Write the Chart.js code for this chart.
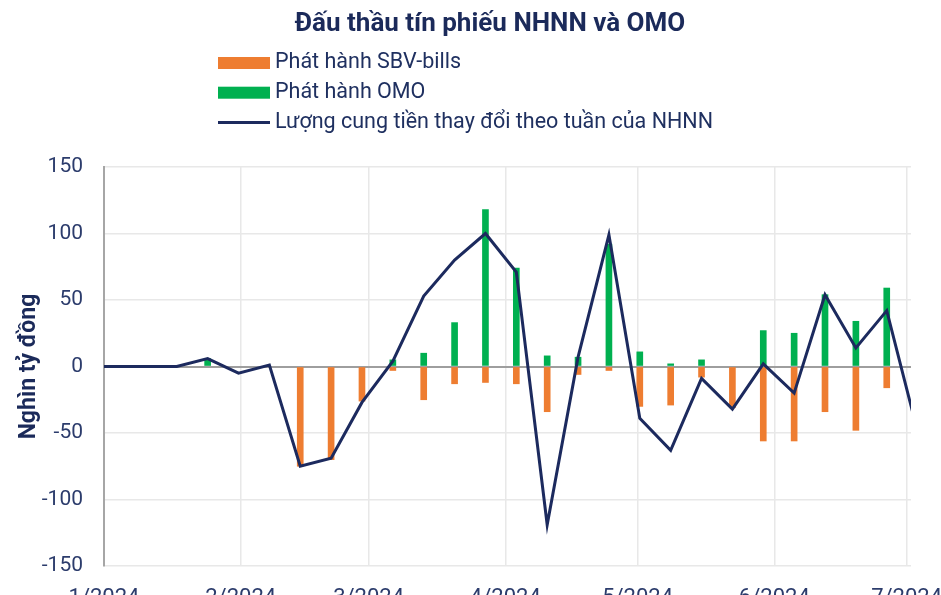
<!DOCTYPE html>
<html>
<head>
<meta charset="utf-8">
<script src="https://cdn.jsdelivr.net/npm/chart.js@4.4.1/dist/chart.umd.min.js"></script>
<style>
  html, body { margin: 0; padding: 0; background: #fff; overflow: hidden; }
  canvas { display: block; }
</style>
</head>
<body>
<canvas id="chart" width="941" height="612"></canvas>
<script>
var chartTitle = 'Đấu thầu tín phiếu NHNN và OMO';
var yTitle = 'Nghìn tỷ đồng';

// weekly auction dates
var weeks = ['2023-12-27', '2024-01-03', '2024-01-10', '2024-01-17', '2024-01-24', '2024-01-31',
  '2024-02-07', '2024-02-14', '2024-02-21', '2024-02-28', '2024-03-06', '2024-03-13', '2024-03-20',
  '2024-03-27', '2024-04-03', '2024-04-10', '2024-04-17', '2024-04-24', '2024-05-01', '2024-05-08',
  '2024-05-15', '2024-05-22', '2024-05-29', '2024-06-05', '2024-06-12', '2024-06-19', '2024-06-26',
  '2024-07-03'];

var sbvBills = [null, null, null, null, null, null, null, -75, -70, -26, -3, -25, -13,
  -12, -13, -34, -6, -3, -30, -29, -8, -31, -56, -56, -34, -48, -16, null];
var omo = [null, null, null, null, 6, null, null, null, null, null, 5, 10, 33,
  118, 74, 8, 7, 92, 11, 2, 5, null, 27, 25, 54, 34, 59, null];
var moneySupply = [0, 0, 0, 0, 6, -5, 1, -75, -69, -27, 4, 53, 80,
  100, 71, -119, 7, 99, -39, -63, -9, -32, 2, -20, 54, 14, 42, -49];

var monthLabels = ['1/2024', '2/2024', '3/2024', '4/2024', '5/2024', '6/2024', '7/2024'];

var DAY = 86400000;
var start = Date.UTC(2024, 0, 1);

function dayOf(s) {
  var p = s.split('-');
  return (Date.UTC(+p[0], +p[1] - 1, +p[2]) - start) / DAY + 0.5;
}

function points(values) {
  return weeks.map(function (w, i) {
    return { x: dayOf(w), y: values[i] };
  });
}

var monthTicks = monthLabels.map(function (m) {
  var p = m.split('/');
  return (Date.UTC(+p[1], +p[0] - 1, 1) - start) / DAY;
});

var header = {
  id: 'header',
  afterDraw: function (chart) {
    var c = chart.ctx;
    c.save();
    c.fillStyle = '#1b2a5a';
    c.font = 'bold 26px Roboto';
    c.textAlign = 'center';
    c.textBaseline = 'middle';
    c.fillText(chartTitle, 490, 24);

    c.font = '21.5px Roboto';
    c.textAlign = 'left';
    chart.data.datasets.forEach(function (ds, i) {
      var y = 63 + i * 29.7;
      if (ds.type === 'line') {
        c.strokeStyle = ds.borderColor;
        c.lineWidth = 3;
        c.beginPath();
        c.moveTo(218, y);
        c.lineTo(270, y);
        c.stroke();
      } else {
        c.fillStyle = ds.backgroundColor;
        c.fillRect(218, y - 6, 52, 12);
      }
      c.fillStyle = '#1f3060';
      c.fillText(ds.label, 275, y);
    });
    c.restore();
  }
};

var ctx = document.getElementById('chart').getContext('2d');
var chart = new Chart(ctx, {
  type: 'bar',
  data: {
    datasets: [{
      label: 'Phát hành SBV-bills',
      data: points(sbvBills),
      backgroundColor: '#ee7d31',
      barThickness: 6,
      grouped: false,
      order: 1
    }, {
      label: 'Phát hành OMO',
      data: points(omo),
      backgroundColor: '#00b050',
      barThickness: 6,
      grouped: false,
      order: 1
    }, {
      type: 'line',
      label: 'Lượng cung tiền thay đổi theo tuần của NHNN',
      data: points(moneySupply),
      borderColor: '#1c2a5e',
      borderWidth: 3,
      pointRadius: 0,
      tension: 0,
      order: 0
    }]
  },
  options: {
    responsive: false,
    devicePixelRatio: 1,
    animation: false,
    layout: { padding: { top: 167, right: 30, left: 0, bottom: 0 } },
    plugins: {
      legend: { display: false },
      title: { display: false },
      tooltip: { enabled: false }
    },
    scales: {
      x: {
        type: 'linear',
        min: 0,
        max: 183,
        offset: false,
        afterBuildTicks: function (scale) {
          scale.ticks = monthTicks.map(function (v) { return { value: v }; });
        },
        afterFit: function (scale) {
          scale.height = 46;
          scale.paddingLeft = 0;
          scale.paddingRight = 0;
        },
        ticks: {
          padding: 19,
          maxRotation: 0,
          autoSkip: false,
          color: '#2c3c6c',
          font: { family: 'Roboto', size: 22 },
          callback: function (v) {
            var i = monthTicks.indexOf(v);
            return i >= 0 ? monthLabels[i] : '';
          }
        },
        grid: { offset: false, color: '#e8e8e8', lineWidth: 1.5, drawTicks: false },
        border: { display: false }
      },
      y: {
        min: -150,
        max: 150,
        afterFit: function (scale) { scale.width = 104; },
        ticks: {
          stepSize: 50,
          padding: 21,
          color: '#2c3c6c',
          font: { family: 'Roboto', size: 21 }
        },
        title: {
          display: true,
          text: yTitle,
          color: '#1b2a5a',
          font: { family: 'Roboto', size: 23, weight: 'bold' },
          padding: { top: 15, bottom: 0 }
        },
        grid: {
          drawTicks: false,
          color: function (c) { return c.tick.value === 0 ? '#9e9e9e' : '#e8e8e8'; },
          lineWidth: function (c) { return c.tick.value === 0 ? 2 : 1.5; }
        },
        border: { color: '#a6a6a6', width: 2 }
      }
    }
  },
  plugins: [header]
});
</script>
</body>
</html>
